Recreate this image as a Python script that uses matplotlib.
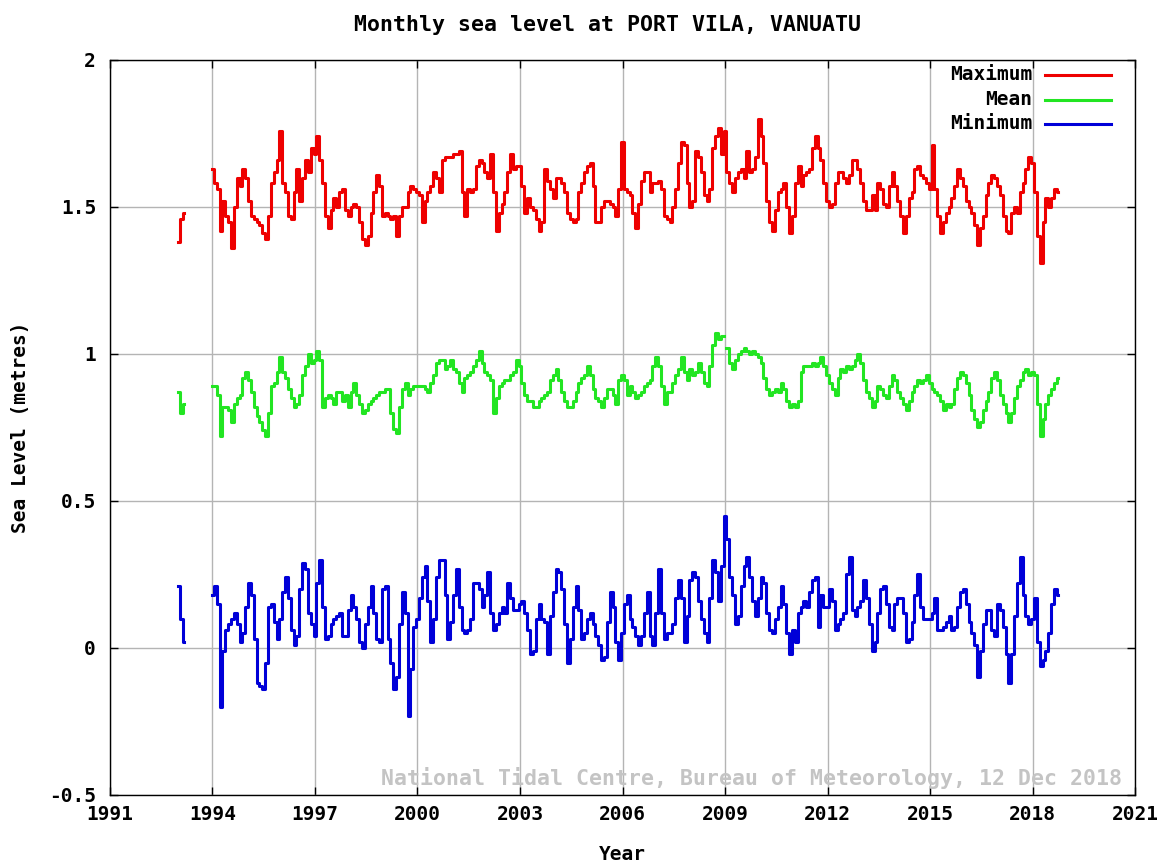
import numpy as np
import matplotlib
matplotlib.use("Agg")
import matplotlib.pyplot as plt
from matplotlib.lines import Line2D

# ============================
# DATA  (monthly values, metres)
# ============================
# short record at the start of 1993, then continuous from Jan 1994
start_1993 = 1993.0
start_main = 1994.0

max_1993 = [1.38, 1.46, 1.48]
mean_1993 = [0.87, 0.80, 0.83]
min_1993 = [0.21, 0.10, 0.02]

max_main = [
    1.63, 1.58, 1.56, 1.42, 1.52, 1.47, 1.45, 1.36, 1.50, 1.60, 1.57, 1.63,  # 1994
    1.60, 1.52, 1.47, 1.46, 1.45, 1.44, 1.41, 1.39, 1.47, 1.58, 1.62, 1.66,  # 1995
    1.76, 1.58, 1.55, 1.47, 1.46, 1.55, 1.63, 1.52, 1.60, 1.66, 1.62, 1.70,  # 1996
    1.68, 1.74, 1.66, 1.58, 1.47, 1.43, 1.49, 1.53, 1.50, 1.55, 1.56, 1.49,  # 1997
    1.47, 1.50, 1.51, 1.50, 1.45, 1.39, 1.37, 1.40, 1.48, 1.55, 1.61, 1.57,  # 1998
    1.47, 1.48, 1.47, 1.46, 1.47, 1.40, 1.47, 1.50, 1.50, 1.55, 1.57, 1.56,  # 1999
    1.55, 1.54, 1.45, 1.52, 1.55, 1.57, 1.62, 1.60, 1.55, 1.66, 1.67, 1.67,  # 2000
    1.67, 1.68, 1.68, 1.69, 1.55, 1.47, 1.56, 1.55, 1.56, 1.64, 1.66, 1.65,  # 2001
    1.62, 1.60, 1.68, 1.55, 1.42, 1.48, 1.51, 1.55, 1.62, 1.68, 1.63, 1.64,  # 2002
    1.64, 1.57, 1.48, 1.53, 1.50, 1.49, 1.46, 1.42, 1.45, 1.63, 1.59, 1.56,  # 2003
    1.53, 1.60, 1.60, 1.58, 1.55, 1.48, 1.46, 1.45, 1.46, 1.55, 1.58, 1.62,  # 2004
    1.64, 1.65, 1.57, 1.45, 1.45, 1.50, 1.52, 1.52, 1.51, 1.50, 1.47, 1.56,  # 2005
    1.72, 1.56, 1.55, 1.54, 1.48, 1.43, 1.51, 1.59, 1.62, 1.62, 1.55, 1.58,  # 2006
    1.58, 1.59, 1.56, 1.47, 1.46, 1.45, 1.50, 1.56, 1.65, 1.72, 1.71, 1.58,  # 2007
    1.50, 1.52, 1.69, 1.67, 1.62, 1.54, 1.52, 1.56, 1.70, 1.74, 1.77, 1.68,  # 2008
    1.76, 1.62, 1.58, 1.55, 1.60, 1.62, 1.63, 1.60, 1.69, 1.62, 1.63, 1.67,  # 2009
    1.80, 1.74, 1.65, 1.52, 1.45, 1.42, 1.49, 1.55, 1.56, 1.58, 1.50, 1.41,  # 2010
    1.47, 1.58, 1.64, 1.57, 1.61, 1.62, 1.63, 1.70, 1.74, 1.70, 1.66, 1.58,  # 2011
    1.52, 1.50, 1.51, 1.58, 1.62, 1.62, 1.60, 1.58, 1.61, 1.66, 1.66, 1.63,  # 2012
    1.58, 1.52, 1.49, 1.49, 1.54, 1.49, 1.58, 1.56, 1.51, 1.50, 1.57, 1.62,  # 2013
    1.57, 1.52, 1.47, 1.41, 1.47, 1.53, 1.55, 1.63, 1.64, 1.61, 1.60, 1.58,  # 2014
    1.56, 1.71, 1.56, 1.47, 1.41, 1.45, 1.48, 1.50, 1.53, 1.57, 1.63, 1.60,  # 2015
    1.57, 1.52, 1.50, 1.48, 1.44, 1.37, 1.43, 1.47, 1.54, 1.58, 1.61, 1.60,  # 2016
    1.57, 1.54, 1.47, 1.42, 1.41, 1.48, 1.50, 1.48, 1.55, 1.58, 1.63, 1.67,  # 2017
    1.65, 1.55, 1.40, 1.31, 1.45, 1.53, 1.50, 1.53, 1.56, 1.55,              # 2018
]

mean_main = [
    0.89, 0.89, 0.86, 0.72, 0.82, 0.82, 0.81, 0.77, 0.83, 0.85, 0.86, 0.92,  # 1994
    0.94, 0.91, 0.87, 0.82, 0.79, 0.77, 0.74, 0.72, 0.80, 0.89, 0.90, 0.94,  # 1995
    0.99, 0.94, 0.92, 0.88, 0.85, 0.82, 0.83, 0.86, 0.93, 0.96, 1.00, 0.97,  # 1996
    0.98, 1.01, 0.98, 0.82, 0.85, 0.86, 0.85, 0.83, 0.87, 0.87, 0.84, 0.86,  # 1997
    0.82, 0.87, 0.90, 0.86, 0.83, 0.80, 0.81, 0.83, 0.84, 0.85, 0.86, 0.87,  # 1998
    0.87, 0.88, 0.88, 0.80, 0.745, 0.73, 0.82, 0.88, 0.90, 0.86, 0.88, 0.89, # 1999
    0.89, 0.89, 0.89, 0.88, 0.87, 0.90, 0.93, 0.97, 0.98, 0.98, 0.95, 0.96,  # 2000
    0.98, 0.95, 0.94, 0.90, 0.87, 0.92, 0.93, 0.94, 0.96, 0.98, 1.01, 0.97,  # 2001
    0.94, 0.93, 0.91, 0.80, 0.85, 0.89, 0.90, 0.91, 0.91, 0.93, 0.94, 0.98,  # 2002
    0.96, 0.90, 0.86, 0.84, 0.84, 0.82, 0.82, 0.84, 0.85, 0.86, 0.87, 0.91,  # 2003
    0.93, 0.95, 0.91, 0.87, 0.84, 0.82, 0.82, 0.84, 0.87, 0.90, 0.92, 0.93,  # 2004
    0.96, 0.93, 0.88, 0.85, 0.84, 0.82, 0.85, 0.88, 0.88, 0.86, 0.83, 0.91,  # 2005
    0.93, 0.91, 0.86, 0.89, 0.87, 0.85, 0.86, 0.87, 0.89, 0.90, 0.91, 0.96,  # 2006
    0.99, 0.96, 0.89, 0.83, 0.87, 0.87, 0.90, 0.93, 0.95, 0.99, 0.94, 0.91,  # 2007
    0.95, 0.93, 0.94, 0.97, 0.94, 0.90, 0.89, 0.96, 1.03, 1.07, 1.05, 1.06,  # 2008
    np.nan, 1.02, 0.97, 0.95, 0.98, 1.00, 1.01, 1.02, 1.01, 1.00, 1.01, 1.00,  # 2009
    0.99, 0.97, 0.92, 0.88, 0.86, 0.87, 0.88, 0.87, 0.90, 0.88, 0.84, 0.82,  # 2010
    0.83, 0.82, 0.84, 0.94, 0.96, 0.96, 0.96, 0.97, 0.96, 0.97, 0.99, 0.96,  # 2011
    0.93, 0.90, 0.88, 0.86, 0.92, 0.95, 0.94, 0.96, 0.95, 0.96, 0.98, 1.00,  # 2012
    0.97, 0.91, 0.87, 0.85, 0.82, 0.84, 0.89, 0.88, 0.86, 0.85, 0.89, 0.93,  # 2013
    0.91, 0.87, 0.85, 0.83, 0.81, 0.84, 0.87, 0.89, 0.91, 0.90, 0.91, 0.93,  # 2014
    0.90, 0.88, 0.87, 0.86, 0.84, 0.81, 0.83, 0.82, 0.83, 0.88, 0.92, 0.94,  # 2015
    0.93, 0.90, 0.86, 0.81, 0.78, 0.75, 0.77, 0.81, 0.84, 0.87, 0.92, 0.94,  # 2016
    0.91, 0.86, 0.83, 0.80, 0.77, 0.80, 0.85, 0.89, 0.91, 0.94, 0.95, 0.93,  # 2017
    0.94, 0.93, 0.83, 0.72, 0.78, 0.83, 0.86, 0.88, 0.90, 0.92,              # 2018
]

min_main = [
    0.18, 0.21, 0.15, -0.20, -0.01, 0.06, 0.08, 0.10, 0.12, 0.08, 0.02, 0.05,    # 1994
    0.14, 0.22, 0.18, 0.03, -0.12, -0.13, -0.14, -0.05, 0.14, 0.15, 0.09, 0.03,  # 1995
    0.10, 0.19, 0.24, 0.17, 0.06, 0.01, 0.04, 0.20, 0.29, 0.27, 0.12, 0.08,      # 1996
    0.04, 0.22, 0.30, 0.14, 0.03, 0.04, 0.08, 0.10, 0.11, 0.12, 0.04, 0.04,      # 1997
    0.13, 0.18, 0.14, 0.10, 0.02, 0.00, 0.08, 0.14, 0.21, 0.12, 0.03, 0.02,      # 1998
    0.20, 0.21, 0.03, -0.05, -0.14, -0.10, 0.08, 0.19, 0.12, -0.23, -0.07, 0.07, # 1999
    0.10, 0.17, 0.24, 0.28, 0.16, 0.02, 0.10, 0.24, 0.30, 0.30, 0.18, 0.03,      # 2000
    0.09, 0.18, 0.27, 0.14, 0.06, 0.05, 0.06, 0.10, 0.22, 0.22, 0.20, 0.14,      # 2001
    0.18, 0.26, 0.12, 0.06, 0.08, 0.12, 0.14, 0.12, 0.22, 0.17, 0.13, 0.13,      # 2002
    0.15, 0.16, 0.12, 0.06, -0.02, -0.01, 0.10, 0.15, 0.10, 0.09, -0.02, 0.11,   # 2003
    0.19, 0.27, 0.26, 0.20, 0.08, -0.05, 0.03, 0.14, 0.21, 0.13, 0.03, 0.05,     # 2004
    0.10, 0.12, 0.08, 0.04, 0.01, -0.04, -0.03, 0.09, 0.19, 0.14, 0.02, -0.04,   # 2005
    0.05, 0.15, 0.18, 0.10, 0.07, 0.04, 0.01, 0.04, 0.12, 0.19, 0.04, 0.01,      # 2006
    0.12, 0.27, 0.12, 0.03, 0.05, 0.05, 0.08, 0.17, 0.23, 0.17, 0.02, 0.11,      # 2007
    0.23, 0.26, 0.24, 0.16, 0.10, 0.05, 0.02, 0.17, 0.30, 0.26, 0.16, 0.28,      # 2008
    0.45, 0.37, 0.24, 0.18, 0.08, 0.11, 0.21, 0.28, 0.31, 0.24, 0.16, 0.11,      # 2009
    0.17, 0.24, 0.22, 0.12, 0.06, 0.05, 0.10, 0.14, 0.21, 0.15, 0.05, -0.02,     # 2010
    0.06, 0.02, 0.12, 0.14, 0.16, 0.14, 0.19, 0.23, 0.24, 0.07, 0.18, 0.14,      # 2011
    0.14, 0.20, 0.16, 0.06, 0.08, 0.10, 0.12, 0.25, 0.31, 0.13, 0.11, 0.14,      # 2012
    0.16, 0.23, 0.17, 0.08, -0.01, 0.02, 0.12, 0.20, 0.21, 0.15, 0.07, 0.06,     # 2013
    0.15, 0.17, 0.17, 0.12, 0.02, 0.03, 0.09, 0.18, 0.25, 0.14, 0.10, 0.10,      # 2014
    0.10, 0.12, 0.17, 0.06, 0.06, 0.07, 0.09, 0.11, 0.06, 0.07, 0.14, 0.19,      # 2015
    0.20, 0.15, 0.09, 0.05, 0.01, -0.10, -0.01, 0.08, 0.13, 0.13, 0.06, 0.04,    # 2016
    0.15, 0.13, 0.07, -0.02, -0.12, -0.02, 0.11, 0.22, 0.31, 0.18, 0.11, 0.08,   # 2017
    0.10, 0.17, 0.02, -0.06, -0.04, -0.01, 0.05, 0.15, 0.20, 0.18,               # 2018
]

x_ticks = [1991, 1994, 1997, 2000, 2003, 2006, 2009, 2012, 2015, 2018, 2021]
y_ticks = [-0.5, 0, 0.5, 1, 1.5, 2]
y_tick_labels = ["-0.5", "0", "0.5", "1", "1.5", "2"]

series = [
    ("Maximum", max_1993, max_main, "#ee0000"),
    ("Mean", mean_1993, mean_main, "#22e522"),
    ("Minimum", min_1993, min_main, "#0000d8"),
]

# ============================
# PLOT
# ============================
FONT = dict(family="DejaVu Sans Mono", weight="bold", size=14)

fig = plt.figure(figsize=(11.61, 8.63), dpi=100)
ax = fig.add_axes([0.0947, 0.0788, 0.883, 0.8517])

for name, early, main, color in series:
    t_early = start_1993 + np.arange(len(early)) / 12
    t_main = start_main + np.arange(len(main)) / 12
    ax.plot(t_early, early, color=color, lw=2.2, drawstyle="steps-mid")
    ax.plot(t_main, main, color=color, lw=2.2, drawstyle="steps-mid")

ax.set_xlim(1991, 2021)
ax.set_ylim(-0.5, 2)
ax.set_xticks(x_ticks)
ax.set_xticklabels([str(t) for t in x_ticks], **FONT)
ax.set_yticks(y_ticks)
ax.set_yticklabels(y_tick_labels, **FONT)
ax.tick_params(direction="in", length=6, width=1, top=True, right=True, pad=7)
ax.tick_params(axis="y", pad=10)
ax.grid(True, color="#b4b4b4", lw=1)
ax.set_axisbelow(True)
for s in ax.spines.values():
    s.set_linewidth(1)
    s.set_color("black")

ax.set_xlabel("Year", labelpad=15, **FONT)
ax.set_ylabel("Sea Level (metres)", labelpad=14, **FONT)
fig.text(0.523, 0.971, "Monthly sea level at PORT VILA, VANUATU",
         ha="center", va="center", **{**FONT, "size": 15.5})

ax.text(0.987, 0.023, "National Tidal Centre, Bureau of Meteorology, 12 Dec 2018",
        transform=ax.transAxes, ha="right", va="center", color="#c4c4c4",
        **{**FONT, "size": 15.5})

# key in the top right corner: label then line sample
key_y = [0.9796, 0.9456, 0.9129]
for (name, _, _, color), yk in zip(series, key_y):
    ax.text(0.8995, yk, name, transform=ax.transAxes, ha="right", va="center", **FONT)
    ax.add_line(Line2D([0.912, 0.976], [yk, yk], transform=ax.transAxes,
                       color=color, lw=2.2))

fig.savefig("out.png", dpi=100)
